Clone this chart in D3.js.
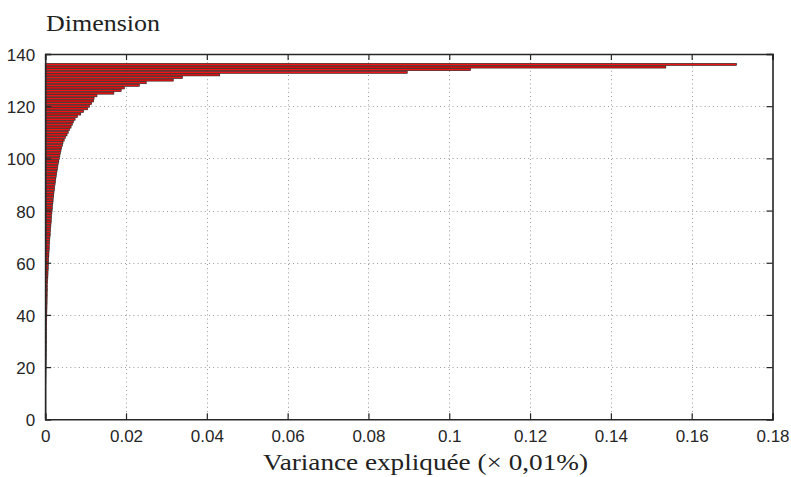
<!DOCTYPE html>
<html>
<head>
<meta charset="utf-8">
<script src="https://cdn.jsdelivr.net/npm/d3@7"></script>
<style>
  html, body { margin: 0; padding: 0; background: #fff; }
  svg { display: block; }
</style>
</head>
<body>
<svg id="chart" width="791" height="477"></svg>
<script>
// ---- data ----
const dimensions = d3.range(1, 137); // dimension index 1..136
const variance = [
  0.00001, 0.00002, 0.00003, 0.00004, 0.00005, 0.00006, 0.00007, 0.00008, 0.00009, 0.00010,
  0.00011, 0.00012, 0.00013, 0.00014, 0.00015, 0.00016, 0.00017, 0.00018, 0.00019, 0.00020,
  0.00021, 0.00022, 0.00023, 0.00024, 0.00025, 0.00026, 0.00027, 0.00028, 0.00029, 0.00030,
  0.00031, 0.00032, 0.00033, 0.00034, 0.00035, 0.00036, 0.00037, 0.00038, 0.00039, 0.00040,
  0.00041, 0.00042, 0.00044, 0.00046, 0.00047, 0.00048, 0.00049, 0.00050, 0.00052, 0.00054,
  0.00056, 0.00058, 0.00061, 0.00064, 0.00067, 0.00070, 0.00073, 0.00076, 0.00079, 0.00082,
  0.00085, 0.00088, 0.00091, 0.00094, 0.00098, 0.00102, 0.00106, 0.00110, 0.00114, 0.00120,
  0.00125, 0.00130, 0.00135, 0.00140, 0.00145, 0.00150, 0.00155, 0.00160, 0.00166, 0.00172,
  0.00178, 0.00184, 0.00190, 0.00197, 0.00204, 0.00211, 0.00218, 0.00226, 0.00235, 0.00244,
  0.00253, 0.00262, 0.00272, 0.00282, 0.00292, 0.00303, 0.00314, 0.00325, 0.00337, 0.00350,
  0.00363, 0.00377, 0.00392, 0.00408, 0.00425, 0.00440, 0.00470, 0.00500, 0.00540, 0.00570,
  0.00600, 0.00640, 0.00670, 0.00700, 0.00740, 0.00800, 0.00880, 0.00950, 0.01050, 0.01100,
  0.01150, 0.01200, 0.01210, 0.01280, 0.01700, 0.01880, 0.01960, 0.02330, 0.02500, 0.03170,
  0.03400, 0.04320, 0.08960, 0.10530, 0.15360, 0.17110
];
const xTicks = [0, 0.02, 0.04, 0.06, 0.08, 0.1, 0.12, 0.14, 0.16, 0.18];
const xTickLabels = ["0", "0.02", "0.04", "0.06", "0.08", "0.1", "0.12", "0.14", "0.16", "0.18"];
const yTicks = [0, 20, 40, 60, 80, 100, 120, 140];
const yTickLabels = ["0", "20", "40", "60", "80", "100", "120", "140"];
const titleText = "Dimension";
const xLabelText = "Variance expliquée (× 0,01%)";

// ---- layout ----
const L = 45.2, R = 772.5, T = 54, B = 419.3;
const svg = d3.select("#chart");
const x = d3.scaleLinear().domain([0, 0.18]).range([L, R]);
const y = d3.scaleLinear().domain([0, 140]).range([B, T]);
const barH = y(0) - y(0.8);

// grid (dotted, behind bars)
const grid = svg.append("g").attr("stroke", "#9a9a9a").attr("stroke-width", 1)
  .attr("stroke-dasharray", "1,3.2");
grid.selectAll("line.gx").data(xTicks.slice(1, -1)).join("line")
  .attr("x1", d => Math.round(x(d)) + 0.5).attr("x2", d => Math.round(x(d)) + 0.5)
  .attr("y1", T).attr("y2", B);
grid.selectAll("line.gy").data(yTicks.slice(1, -1)).join("line")
  .attr("y1", d => Math.round(y(d)) + 0.5).attr("y2", d => Math.round(y(d)) + 0.5)
  .attr("x1", L).attr("x2", R);

// bars
svg.append("g").selectAll("rect").data(variance).join("rect")
  .attr("x", x(0))
  .attr("y", (d, i) => y(dimensions[i]) - barH / 2)
  .attr("width", d => x(d) - x(0))
  .attr("height", barH)
  .attr("fill", "#f01414")
  .attr("stroke", "#1a1a1a")
  .attr("stroke-width", 0.6);

// axes with inward ticks
const fontTick = "'Liberation Sans', Arial, sans-serif";
const axB = svg.append("g").attr("transform", `translate(0,${B})`)
  .call(d3.axisBottom(x).tickValues(xTicks).tickSize(-6).tickPadding(11)
    .tickFormat((d, i) => xTickLabels[i]));
const axT = svg.append("g").attr("transform", `translate(0,${T})`)
  .call(d3.axisTop(x).tickValues(xTicks).tickSize(-6).tickFormat(""));
const axLft = svg.append("g").attr("transform", `translate(${L},0)`)
  .call(d3.axisLeft(y).tickValues(yTicks).tickSize(-6).tickPadding(10)
    .tickFormat((d, i) => yTickLabels[i]));
const axRt = svg.append("g").attr("transform", `translate(${R},0)`)
  .call(d3.axisRight(y).tickValues(yTicks).tickSize(-6).tickFormat(""));
[axB, axT, axLft, axRt].forEach(g => {
  g.select(".domain").attr("stroke", "#262626").attr("stroke-width", 1.6);
  g.selectAll(".tick line").attr("stroke", "#262626").attr("stroke-width", 1.2);
  g.selectAll(".tick text").attr("fill", "#262626")
    .style("font-family", fontTick).style("font-size", "17px");
});
axLft.selectAll(".tick text").attr("dy", "0.38em");

// title and x label (serif)
const fontSerif = "'Liberation Serif', 'Times New Roman', serif";
svg.append("text").attr("x", 46).attr("y", 31)
  .style("font-family", fontSerif).style("font-size", "24px").attr("fill", "#222")
  .attr("textLength", 114).attr("lengthAdjust", "spacingAndGlyphs")
  .text(titleText);
svg.append("text").attr("x", 263).attr("y", 470)
  .style("font-family", fontSerif).style("font-size", "24px").attr("fill", "#222")
  .attr("textLength", 325).attr("lengthAdjust", "spacingAndGlyphs")
  .text(xLabelText);
</script>
</body>
</html>
